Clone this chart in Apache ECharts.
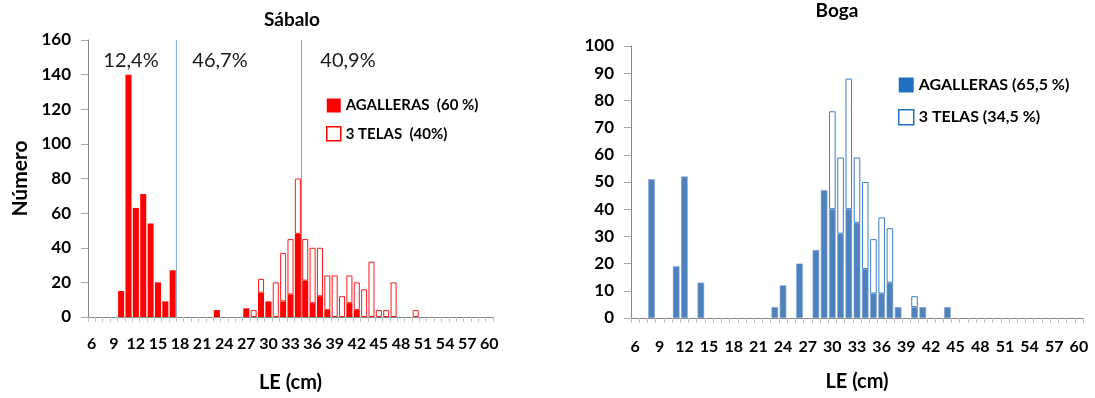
<!DOCTYPE html>
<html>
<head>
<meta charset="utf-8">
<script src="https://cdn.jsdelivr.net/npm/echarts@6/dist/echarts.min.js"></script>
<style>
html,body{margin:0;padding:0;background:#fff;}
#chart{width:1095px;height:398px;}
</style>
</head>
<body>
<div id="chart"></div>
<script>
// LE (cm) classes 6..60
var categories = ['6','7','8','9','10','11','12','13','14','15','16','17','18','19','20','21','22','23','24','25','26','27','28','29','30','31','32','33','34','35','36','37','38','39','40','41','42','43','44','45','46','47','48','49','50','51','52','53','54','55','56','57','58','59','60'];

// Sábalo
var sabaloAgalleras = [0,0,0,0,15,140,63,71,54,20,9,27,0,0,0,0,0,4,0,0,0,5,0,14,9,0,9,13,48,21,8,12,4,0,0,8,4,0,0,0,0,0,0,0,0,0,0,0,0,0,0,0,0,0,0];
var sabalo3Telas   = [0,0,0,0,0,0,0,0,0,0,0,0,0,0,0,0,0,0,0,0,0,0,4,8,0,20,28,32,32,24,32,28,20,24,12,16,16,16,32,4,4,20,0,0,4,0,0,0,0,0,0,0,0,0,0];
var sabaloDividers = [17.5, 34.5];
var sabaloPercents = ['12,4%', '46,7%', '40,9%'];

// Boga
var bogaAgalleras = [0,0,51,0,0,19,52,0,13,0,0,0,0,0,0,0,0,4,12,0,20,0,25,47,40,31,40,35,18,9,9,13,4,0,4,4,0,0,4,0,0,0,0,0,0,0,0,0,0,0,0,0,0,0,0];
var boga3Telas   = [0,0,0,0,0,0,0,0,0,0,0,0,0,0,0,0,0,0,0,0,0,0,0,0,36,28,48,24,32,20,28,20,0,0,4,0,0,0,0,0,0,0,0,0,0,0,0,0,0,0,0,0,0,0,0];

var sabaloNames = ['AGALLERAS  (60 %)', '3 TELAS  (40%)'];
var bogaNames = ['AGALLERAS (65,5 %)', '3 TELAS (34,5 %)'];

var FONT = 'Lato, "Open Sans", sans-serif';
function nz(a){ return a.map(function(v){ return v ? v : null; }); }

var chart = echarts.init(document.getElementById('chart'), null, {renderer:'canvas'});

function catAxis(gi, margin, nameGap){
  return {
    type:'category', gridIndex:gi, data:categories, boundaryGap:true,
    axisLine:{show:true, lineStyle:{color:'#868686', width:1}},
    axisTick:{show:true, interval:0, length:5, lineStyle:{color:'#c0c0c0'}},
    axisLabel:{interval:2, margin:margin, color:'#000', fontFamily:FONT, fontWeight:'bold', fontSize:16},
    name:'LE (cm)', nameLocation:'middle', nameGap:nameGap,
    nameTextStyle:{color:'#000', fontFamily:FONT, fontWeight:'bold', fontSize:20},
    splitLine:{show:false}
  };
}
function valAxis(gi, max, interval, extra){
  var a = {
    type:'value', gridIndex:gi, min:0, max:max, interval:interval,
    axisLine:{show:true, lineStyle:{color:'#868686', width:1}},
    axisTick:{show:true, inside:false, length:7, lineStyle:{color:'#a6a6a6'}},
    axisLabel:{margin:17, color:'#000', fontFamily:FONT, fontWeight:'bold', fontSize:17},
    splitLine:{show:false}
  };
  for (var k in extra) a[k] = extra[k];
  return a;
}

var series = [
  {name:sabaloNames[0], type:'bar', xAxisIndex:0, yAxisIndex:0, stack:'s', data:nz(sabaloAgalleras),
   barCategoryGap:'18%', itemStyle:{color:'#ff0000'}},
  {name:sabaloNames[1], type:'bar', xAxisIndex:0, yAxisIndex:0, stack:'s', data:nz(sabalo3Telas),
   barCategoryGap:'18%', itemStyle:{color:'#ffffff', borderColor:'#ff1a1a', borderWidth:1}},
  {name:bogaNames[0], type:'bar', xAxisIndex:1, yAxisIndex:1, stack:'b', data:nz(bogaAgalleras),
   barCategoryGap:'20%', itemStyle:{color:'#4f81bd', borderColor:'#7ea3d3', borderWidth:0.6}},
  {name:bogaNames[1], type:'bar', xAxisIndex:1, yAxisIndex:1, stack:'b', data:nz(boga3Telas),
   barCategoryGap:'20%', itemStyle:{color:'#ffffff', borderColor:'#3a7ec6', borderWidth:1}}
];
sabaloDividers.forEach(function(d){
  series.push({type:'line', xAxisIndex:2, yAxisIndex:0, data:[[d,0],[d,160]], symbol:'none', silent:true,
    lineStyle:{color:'#7a9fd3', width:1}, z:5});
});

var pctX = [131, 220, 348];
var graphics = [
  {type:'text', x:292, y:20, style:{text:'Sábalo', font:'bold 19px '+FONT, fill:'#000', textAlign:'center', textVerticalAlign:'middle'}},
  {type:'text', x:837, y:11, style:{text:'Boga', font:'bold 19px '+FONT, fill:'#000', textAlign:'center', textVerticalAlign:'middle'}}
];
sabaloPercents.forEach(function(t,i){
  graphics.push({type:'text', x:pctX[i], y:61, style:{text:t, font:'20px '+FONT, fill:'#1a1a1a', textAlign:'center', textVerticalAlign:'middle'}});
});

chart.setOption({
  animation:false,
  backgroundColor:'#fff',
  grid:[
    {left:88, top:40, width:405, height:277},
    {left:631, top:46, width:452, height:272}
  ],
  xAxis:[
    catAxis(0, 19, 56),
    catAxis(1, 21, 54),
    {type:'value', gridIndex:0, min:5.5, max:60.5, show:false}
  ],
  yAxis:[
    valAxis(0, 160, 20, {name:'Número', nameLocation:'middle', nameGap:57, nameRotate:90,
      nameTextStyle:{color:'#000', fontFamily:FONT, fontWeight:'bold', fontSize:21}}),
    valAxis(1, 100, 10, {})
  ],
  legend:[
    {data:[{name:sabaloNames[0], itemStyle:{color:'#ff0000', borderWidth:0}},
           {name:sabaloNames[1], itemStyle:{color:'#ffffff', borderColor:'#ff0000', borderWidth:1.5}}],
     orient:'vertical', left:321, top:93, itemWidth:14, itemHeight:14, itemGap:13, selectedMode:false,
     icon:'rect', textStyle:{color:'#000', fontFamily:FONT, fontWeight:'bold', fontSize:15}},
    {data:[{name:bogaNames[0], itemStyle:{color:'#1f70c1', borderWidth:0}},
           {name:bogaNames[1], itemStyle:{color:'#ffffff', borderColor:'#1f70c1', borderWidth:1.5}}],
     orient:'vertical', left:893, top:72, itemWidth:15, itemHeight:15, itemGap:16, selectedMode:false,
     icon:'rect', textStyle:{color:'#000', fontFamily:FONT, fontWeight:'bold', fontSize:16}}
  ],
  series:series,
  graphic:graphics
});
</script>
</body>
</html>
